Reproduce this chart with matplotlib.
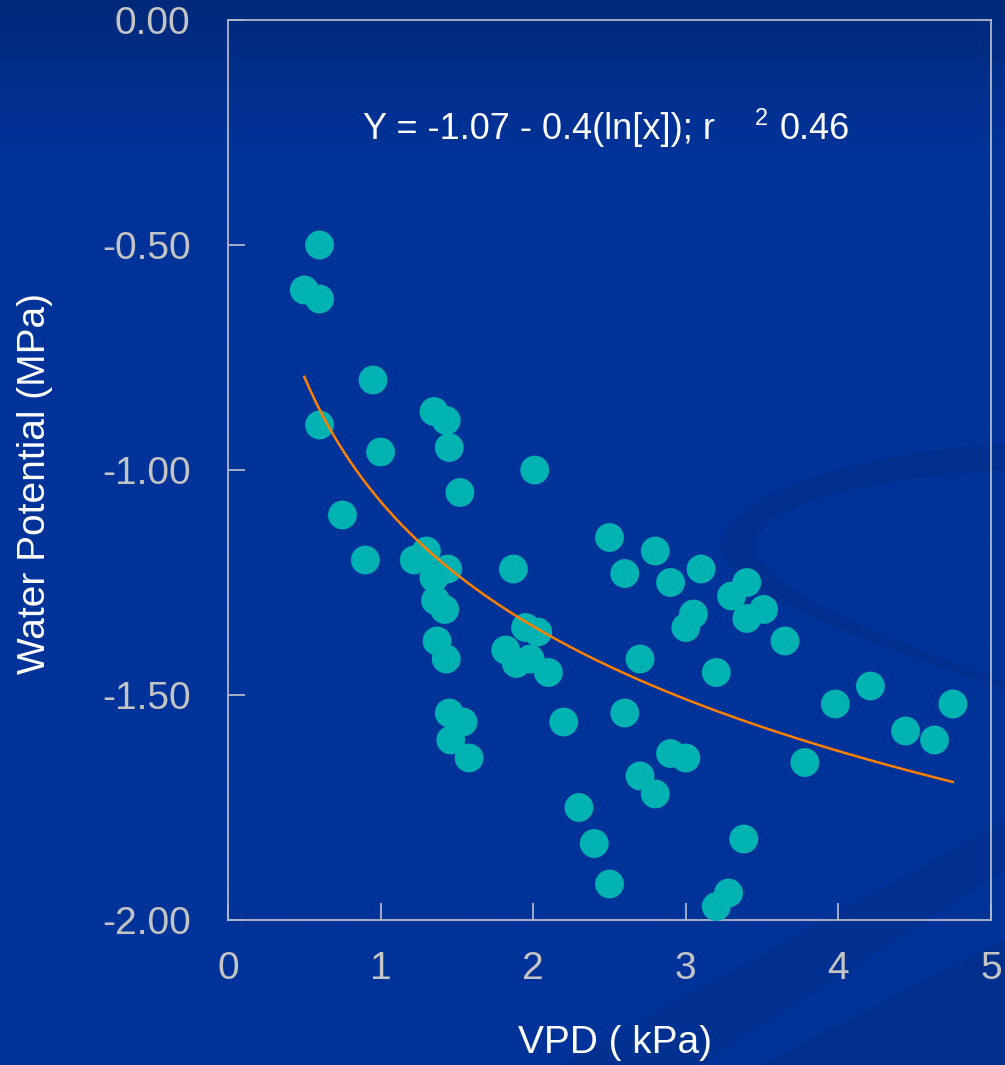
import numpy as np
import matplotlib
matplotlib.use("Agg")
import matplotlib.pyplot as plt
from matplotlib.path import Path
from matplotlib.patches import PathPatch

# ---- data ----
vpd = [0.6, 0.5, 0.6, 0.95, 0.6, 1.35, 1.43, 1.0, 1.45, 2.01,
       1.52, 0.75, 0.9, 2.5, 1.87, 1.22, 1.30, 1.44, 1.35, 1.36,
       1.42, 1.37, 1.43, 1.95, 2.03, 1.82, 1.89, 1.98, 2.10, 2.80,
       2.60, 2.90, 3.10, 3.40, 3.30, 3.51, 3.40, 3.65, 3.05, 3.00,
       2.70, 3.20, 2.60, 2.20, 1.45, 1.54, 1.46, 1.58, 2.90, 3.00,
       2.70, 2.80, 2.30, 2.40, 2.50, 3.38, 3.28, 3.20, 4.75, 4.21,
       3.98, 4.44, 4.63, 3.78]
water_potential = [-0.50, -0.60, -0.62, -0.80, -0.90, -0.87, -0.89, -0.96, -0.95, -1.00,
                   -1.05, -1.10, -1.20, -1.15, -1.22, -1.20, -1.18, -1.22, -1.24, -1.29,
                   -1.31, -1.38, -1.42, -1.35, -1.36, -1.40, -1.43, -1.42, -1.45, -1.18,
                   -1.23, -1.25, -1.22, -1.25, -1.28, -1.31, -1.33, -1.38, -1.32, -1.35,
                   -1.42, -1.45, -1.54, -1.56, -1.54, -1.56, -1.60, -1.64, -1.63, -1.64,
                   -1.68, -1.72, -1.75, -1.83, -1.92, -1.82, -1.94, -1.97, -1.52, -1.48,
                   -1.52, -1.58, -1.60, -1.65]

fit_intercept = -1.07
fit_slope = -0.4
fit_x_range = [0.5, 4.75]

x_ticks = [0, 1, 2, 3, 4, 5]
x_tick_labels = ["0", "1", "2", "3", "4", "5"]
y_ticks = [0.0, -0.5, -1.0, -1.5, -2.0]
y_tick_labels = ["0.00", "-0.50", "-1.00", "-1.50", "-2.00"]

equation_text = "Y = -1.07 - 0.4(ln[x]); r"
r2_text = "0.46"

# ---- figure ----
W, H = 1005, 1065
fig = plt.figure(figsize=(W / 100, H / 100), dpi=100)
plt.rcParams['font.family'] = ['Liberation Sans', 'DejaVu Sans']

# background gradient
bg = fig.add_axes([0, 0, 1, 1])
bg.set_xlim(0, W)
bg.set_ylim(H, 0)
bg.axis("off")
top = np.array([0x00, 0x29, 0x7A]) / 255
mid = np.array([0x00, 0x33, 0x99]) / 255
t = np.clip(np.linspace(0, 1, 400) / 0.14, 0, 1)[:, None]
grad = (top * (1 - t) + mid * t)[:, None, :]
bg.imshow(grad, extent=[0, W, H, 0], aspect="auto", zorder=0)

swoosh_col = "#002F8E"
# upper ribbon swoosh
verts = [(1005, 443),
         (870, 452), (725, 490), (720, 548),
         (735, 595), (860, 640), (1005, 690),
         (1005, 682),
         (870, 632), (760, 590), (755, 545),
         (760, 500), (880, 478), (1005, 470),
         (1005, 443)]
codes = [Path.MOVETO] + [Path.CURVE4] * 3 + [Path.CURVE4] * 3 + [Path.LINETO] + \
        [Path.CURVE4] * 3 + [Path.CURVE4] * 3 + [Path.CLOSEPOLY]
bg.add_patch(PathPatch(Path(verts, codes), facecolor=swoosh_col, edgecolor="none", zorder=1))
# lower diagonal bands
bg.add_patch(plt.Polygon([(560, 1065), (1005, 820), (1005, 870), (700, 1065)],
                         closed=True, facecolor="#003191", edgecolor="none", zorder=1))
bg.add_patch(plt.Polygon([(760, 1065), (1005, 940), (1005, 1065)],
                         closed=True, facecolor="#002F8C", edgecolor="none", zorder=1))

# main axes
ax = fig.add_axes([228 / W, 1 - 920 / H, (991 - 228) / W, (920 - 20) / H])
ax.patch.set_alpha(0)
ax.set_xlim(0, 5)
ax.set_ylim(-2, 0)

frame_col = "#B0B8CA"
for s in ax.spines.values():
    s.set_color(frame_col)
    s.set_linewidth(1.3)

ax.set_xticks(x_ticks)
ax.set_xticklabels(x_tick_labels)
ax.set_yticks(y_ticks)
ax.set_yticklabels(y_tick_labels)
ax.tick_params(axis="both", direction="in", length=12, width=1.3, color=frame_col,
               labelcolor="#C4C4C4", labelsize=28)
ax.tick_params(axis="x", pad=22, top=False)
ax.tick_params(axis="y", pad=27, right=False)

ax.set_xlabel("VPD ( kPa)", color="white", fontsize=28)
ax.set_ylabel("Water Potential (MPa)", color="white", fontsize=28)
ax.xaxis.set_label_coords((615 - 228) / 763, -(1043 - 920) / 900, transform=ax.transAxes)
ax.yaxis.set_label_coords(-(228 - 35) / 763, (920 - 484) / 900, transform=ax.transAxes)
ax.xaxis.label.set_va("center")
ax.yaxis.label.set_va("center")

ax.scatter(vpd, water_potential, s=430, color="#00B2B2", edgecolors="none",
           zorder=3, clip_on=False)

xf = np.linspace(fit_x_range[0], fit_x_range[1], 200)
yf = fit_intercept + fit_slope * np.log(xf)
ax.plot(xf, yf, color="#FF8000", lw=1.8, zorder=4)

ax.text((363 - 228) / 763, 0.878, equation_text, transform=ax.transAxes, color="white",
        fontsize=26, ha="left", va="center")
ax.text((755 - 228) / 763, 0.89, "2", transform=ax.transAxes, color="white",
        fontsize=17, ha="left", va="center")
ax.text((780 - 228) / 763, 0.878, r2_text, transform=ax.transAxes, color="white",
        fontsize=26, ha="left", va="center")

fig.savefig("out.png", dpi=100, facecolor=fig.get_facecolor())
